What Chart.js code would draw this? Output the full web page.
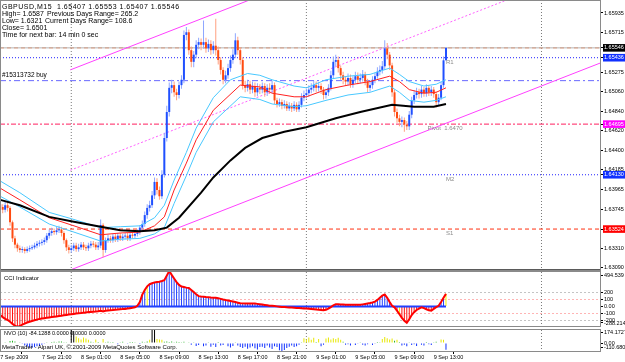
<!DOCTYPE html>
<html>
<head>
<meta charset="utf-8">
<script src="https://cdn.jsdelivr.net/npm/chart.js@4.4.0/dist/chart.umd.min.js"></script>
<style>
  body { margin: 0; background: #fff; width: 625px; height: 362px; overflow: hidden; position: relative; }
  canvas { position: absolute; left: 0; }
  #main { top: 0; }
  #cci { top: 262px; }
  #nvo { top: 329px; }
  .txt { position: absolute; font-family: "Liberation Sans", Arial, sans-serif; white-space: pre; color: #000; }
  .head { font-size: 7px; line-height: 7px; letter-spacing: 0; }
  .small { font-size: 6px; line-height: 6px; }
</style>
</head>
<body>
<canvas id="main" width="625" height="271"></canvas>
<canvas id="cci" width="625" height="68"></canvas>
<canvas id="nvo" width="625" height="33"></canvas>

<div class="txt head" style="left:2px;top:2.5px;letter-spacing:0.5px">GBPUSD,M15  1.65407 1.65553 1.65407 1.65546</div>
<div class="txt head" style="left:2px;top:9.5px">High= 1.6587</div>
<div class="txt head" style="left:47px;top:9.5px">Previous Days Range= 265.2</div>
<div class="txt head" style="left:2px;top:16.5px">Low= 1.6321</div>
<div class="txt head" style="left:45px;top:16.5px">Current Days Range= 108.6</div>
<div class="txt head" style="left:2px;top:23.5px">Close= 1.6501</div>
<div class="txt head" style="left:2px;top:30.5px">Time for next bar: 14 min 0 sec</div>
<div class="txt small" style="left:4px;top:275px">CCI Indicator</div>
<div class="txt small" style="left:4px;top:330px;font-size:5.5px">NVO (10) -84.1288 0.0000 0.0000 0.0000</div>
<div class="txt small" style="left:2px;top:344px">MetaTrader - Alpari UK, © 2001-2009 MetaQuotes Software Corp.</div>

<script>
// GBPUSD M15, bar index 0 = 7 Sep 16:45, one bar every 15 min
const firstOpen = 1.6380;
const closes = [
  1.6377,1.6374,1.6379,1.6376,1.6360,1.6342,1.6335,1.6331,1.6329,1.6330,
  1.6328,1.6330,1.6331,1.6332,1.6334,1.6336,1.6337,1.6338,1.6340,1.6345,
  1.6348,1.6350,1.6349,1.6351,1.6352,1.6348,1.6340,1.6332,1.6329,1.6331,
  1.6334,1.6330,1.6332,1.6335,1.6332,1.6331,1.6334,1.6336,1.6335,1.6332,
  1.6334,1.6357,1.6329,1.6340,1.6342,1.6340,1.6344,1.6341,1.6345,1.6342,
  1.6344,1.6345,1.6342,1.6346,1.6345,1.6347,1.6349,1.6354,1.6358,1.6368,
  1.6376,1.6379,1.6390,1.6405,1.6396,1.6389,1.6413,1.6454,1.6483,1.6510,
  1.6513,1.6505,1.6502,1.6513,1.6519,1.6569,1.6572,1.6552,1.6539,1.6547,
  1.6558,1.6561,1.6558,1.6561,1.6554,1.6559,1.6552,1.6557,1.6552,1.6541,
  1.6530,1.6519,1.6524,1.6532,1.6541,1.6547,1.6563,1.6552,1.6541,1.6513,
  1.6510,1.6514,1.6508,1.6512,1.6505,1.6510,1.6508,1.6512,1.6505,1.6510,
  1.6508,1.6513,1.6496,1.6492,1.6494,1.6490,1.6492,1.6487,1.6490,1.6487,
  1.6491,1.6486,1.6491,1.6499,1.6502,1.6504,1.6508,1.6510,1.6513,1.6510,
  1.6512,1.6508,1.6502,1.6505,1.6510,1.6524,1.6539,1.6541,1.6532,1.6524,
  1.6519,1.6517,1.6521,1.6514,1.6519,1.6523,1.6519,1.6521,1.6525,1.6517,
  1.6510,1.6513,1.6519,1.6523,1.6528,1.6530,1.6534,1.6554,1.6547,1.6535,
  1.6505,1.6483,1.6476,1.6472,1.6474,1.6469,1.6467,1.6480,1.6496,1.6502,
  1.6505,1.6503,1.6508,1.6504,1.6510,1.6505,1.6508,1.6503,1.6494,1.6499,
  1.6513,1.65407,1.65546
];
const highs = [
  1.6384,1.6380,1.6383,1.6382,1.6378,1.6362,1.6345,1.6337,1.6334,1.6333,
  1.6332,1.6333,1.6334,1.6335,1.6337,1.6339,1.6340,1.6341,1.6343,1.6348,
  1.6352,1.6354,1.6353,1.6355,1.6356,1.6355,1.6350,1.6342,1.6335,1.6335,
  1.6337,1.6337,1.6336,1.6338,1.6338,1.6335,1.6337,1.6339,1.6339,1.6338,
  1.6338,1.6363,1.6359,1.6343,1.6346,1.6345,1.6347,1.6347,1.6348,1.6348,
  1.6347,1.6348,1.6348,1.6349,1.6349,1.6350,1.6352,1.6357,1.6362,1.6372,
  1.6380,1.6384,1.6395,1.6410,1.6409,1.6400,1.6418,1.6460,1.6490,1.6516,
  1.6519,1.6517,1.6509,1.6517,1.6524,1.6574,1.6578,1.6575,1.6556,1.6551,
  1.6563,1.6566,1.6565,1.6585,1.6566,1.6564,1.6563,1.6562,1.6587,1.6556,
  1.6544,1.6533,1.6529,1.6537,1.6546,1.6553,1.6571,1.6567,1.6555,1.6544,
  1.6518,1.6519,1.6518,1.6517,1.6516,1.6515,1.6514,1.6516,1.6515,1.6514,
  1.6515,1.6518,1.6516,1.6499,1.6498,1.6497,1.6496,1.6495,1.6494,1.6493,
  1.6495,1.6494,1.6495,1.6504,1.6507,1.6509,1.6513,1.6515,1.6518,1.6517,
  1.6516,1.6515,1.6511,1.6509,1.6514,1.6529,1.6545,1.6547,1.6545,1.6535,
  1.6528,1.6523,1.6526,1.6525,1.6523,1.6528,1.6527,1.6526,1.6530,1.6528,
  1.6520,1.6518,1.6523,1.6527,1.6533,1.6535,1.6540,1.6563,1.6560,1.6550,
  1.6538,1.6508,1.6487,1.6480,1.6478,1.6477,1.6473,1.6484,1.6500,1.6507,
  1.6510,1.6509,1.6512,1.6511,1.6514,1.6513,1.6512,1.6511,1.6506,1.6503,
  1.6517,1.6545,1.65553
];
const lows = [
  1.6373,1.6370,1.6371,1.6372,1.6356,1.6338,1.6331,1.6327,1.6326,1.6326,
  1.6325,1.6326,1.6327,1.6329,1.6330,1.6331,1.6333,1.6334,1.6335,1.6337,
  1.6342,1.6345,1.6346,1.6346,1.6348,1.6344,1.6336,1.6328,1.6325,1.6326,
  1.6328,1.6327,1.6327,1.6329,1.6329,1.6328,1.6328,1.6331,1.6332,1.6329,
  1.6329,1.6331,1.6321,1.6326,1.6337,1.6337,1.6337,1.6338,1.6338,1.6339,
  1.6339,1.6341,1.6339,1.6339,1.6342,1.6342,1.6344,1.6346,1.6351,1.6355,
  1.6364,1.6372,1.6376,1.6386,1.6391,1.6385,1.6386,1.6410,1.6450,1.6478,
  1.6504,1.6500,1.6496,1.6498,1.6509,1.6515,1.6563,1.6547,1.6533,1.6533,
  1.6543,1.6553,1.6552,1.6554,1.6549,1.6550,1.6547,1.6548,1.6546,1.6536,
  1.6525,1.6514,1.6515,1.6520,1.6528,1.6537,1.6543,1.6547,1.6536,1.6508,
  1.6505,1.6506,1.6503,1.6504,1.6500,1.6501,1.6503,1.6504,1.6500,1.6501,
  1.6503,1.6504,1.6492,1.6488,1.6489,1.6486,1.6487,1.6484,1.6484,1.6483,
  1.6484,1.6483,1.6483,1.6488,1.6495,1.6498,1.6500,1.6504,1.6506,1.6505,
  1.6506,1.6503,1.6497,1.6498,1.6501,1.6507,1.6520,1.6534,1.6527,1.6519,
  1.6514,1.6512,1.6513,1.6510,1.6510,1.6515,1.6514,1.6515,1.6517,1.6513,
  1.6505,1.6506,1.6509,1.6515,1.6520,1.6524,1.6526,1.6530,1.6542,1.6530,
  1.6500,1.6478,1.6471,1.6467,1.6466,1.6461,1.6463,1.6463,1.6476,1.6492,
  1.6498,1.6498,1.6499,1.6500,1.6500,1.6501,1.6501,1.6499,1.6488,1.6490,
  1.6496,1.6510,1.65407
];

// moving averages (bar index, price)
const maBlackK = [0,8,20,29,41,49,57,63,68,73,82,87,94,100,107,116,125,137,147,160,169,177,182];
const maBlack = [1.6385,1.6379,1.6366,1.6361,1.6355,1.6351,1.6350,1.6351,1.6354,1.6365,1.6393,1.6410,1.6429,1.6443,1.6454,1.6461,1.6466,1.6476,1.6483,1.6491,1.6489,1.6489,1.6492];
const maRedK = [0,8,20,29,41,49,57,63,67,71,76,80,87,98,106,111,120,125,133,142,151,159,163,167,173,178,182];
const maRed = [1.6398,1.6385,1.6365,1.6357,1.6346,1.6348,1.6349,1.6356,1.6366,1.6396,1.6426,1.6452,1.6485,1.6513,1.6511,1.6504,1.6500,1.6500,1.6508,1.6513,1.6517,1.6523,1.6517,1.6508,1.6504,1.6505,1.6510];
const bandUpK = [0,8,20,29,41,49,57,63,67,71,76,80,87,94,101,106,111,120,125,133,142,151,159,163,167,173,178,182];
const bandUp = [1.6406,1.6393,1.6371,1.6364,1.6354,1.6355,1.6356,1.6365,1.6379,1.6407,1.6438,1.6465,1.6499,1.6519,1.6526,1.6524,1.6519,1.6512,1.6510,1.6519,1.6523,1.6525,1.6532,1.6525,1.6517,1.6512,1.6514,1.6519];
const bandDnK = [0,8,20,29,41,49,57,63,67,71,76,80,87,98,106,111,120,125,133,142,151,159,163,167,173,178,182];
const bandDn = [1.6389,1.6377,1.6358,1.6350,1.6339,1.6341,1.6342,1.6347,1.6354,1.6381,1.6412,1.6438,1.6472,1.6500,1.6497,1.6492,1.6489,1.6490,1.6496,1.6502,1.6505,1.6512,1.6505,1.6496,1.6494,1.6496,1.6500];

// channel (start / end bar index)
const channelK = [28.6, 245.3];
const channelUpper = [1.6530, 1.6761];
const channelMid = [1.6418, 1.6649];
const channelLower = [1.63067, 1.6538];

// levels
const bidPrice = 1.65546;
const r1Level = 1.65436;
const orderLevel = 1.6518;
const pivotLevel = 1.64695;
const m2Level = 1.64130;
const s1Level = 1.63524;
const daySeparators = [29, 125, 221];

const priceMin = 1.63056, priceMax = 1.6608;
const priceTicks = [1.65935,1.65715,1.65275,1.65060,1.64840,1.64620,1.64400,1.64185,1.63965,1.63745,1.63310,1.63090,
                    1.65546,1.65436,1.64695,1.64130,1.63524];

// CCI per bar
const cci = [
  -120,-150,-175,-190,-215,-245,-270,-288.214,-275,-255,
  -240,-225,-215,-205,-195,-185,-175,-170,-165,-160,
  -155,-150,-145,-140,-135,-130,-125,-120,-115,-110,
  -105,-100,-95,-92,-88,-84,-80,-78,-75,-72,
  -68,-60,-70,-62,-58,-55,-52,-48,-45,-40,
  -38,-35,-30,-25,-20,-12,8,60,165,230,
  280,310,323,335,340,345,355,367,430,494.539,
  440,390,340,300,277,270,262,256,230,200,
  170,143,138,134,130,127,124,122,121,115,
  105,95,88,82,75,68,60,52,44,42,
  41,40,40,40,40,35,30,25,20,15,
  10,8,4,0,-4,-8,-10,-13,-15,-17,
  -19,-21,-23,-25,-28,-30,-33,-36,-40,-44,
  -47,-50,-55,-48,-30,-10,15,31,30,28,
  26,24,23,22,22,22,22,22,28,34,
  40,46,55,67,90,120,150,165,121,60,
  8,-13,-60,-110,-160,-200,-230,-180,-120,-81,
  -50,-30,-13,-25,-40,-55,-59,-35,-10,8,
  60,120,175
];
const cciYellow = [60, 163, 182];
const cciTicks = [200, 100, 0, -100, -200];

// NVO per bar
const nvo = [
  5,8,4,6,25,30,20,8,5,-10,
  -30,-45,-55,-60,-50,-40,-35,-20,-10,5,
  8,12,15,10,20,20,10,5,8,174.1727,
  150,80,60,45,70,55,40,15,10,45,
  12,8,50,10,15,10,12,8,-15,10,
  15,8,-10,12,14,10,8,-12,15,10,
  20,40,174,165,50,45,40,15,20,12,
  18,10,15,12,10,15,8,10,-20,10,
  -35,-25,8,-40,-30,10,-45,-20,-50,12,
  -30,-25,8,-40,-55,-35,10,-30,-50,-60,
  -45,-70,-55,-40,-65,-80,-50,-45,-60,-30,
  -55,-75,-40,-50,-90,-110.68,-85,-60,-45,-30,
  -50,-40,-20,10,60,45,70,40,65,12,
  50,-40,-20,55,70,45,60,50,65,40,
  15,-20,-15,-30,8,-25,-10,10,-20,-30,
  -15,8,-25,-10,12,10,50,75,60,45,
  55,30,40,12,-30,-20,-40,10,-25,-15,
  -35,8,-20,-30,12,-15,-25,10,15,8,
  45,40,-84.1288
];

const timeTickK = [0, 17, 33, 49, 65, 81, 97, 113, 129, 145, 161, 177];
const timeLabels = ['7 Sep 2009','7 Sep 21:00','8 Sep 01:00','8 Sep 05:00','8 Sep 09:00','8 Sep 13:00',
                    '8 Sep 17:00','8 Sep 21:00','9 Sep 01:00','9 Sep 05:00','9 Sep 09:00','9 Sep 13:00'];

const xMin = -0.1, xMax = 245.3;
const FONT = '"Liberation Sans", Arial, sans-serif';

Chart.defaults.font.family = FONT;
Chart.defaults.font.size = 5.5;
Chart.defaults.color = '#000';
Chart.defaults.animation = false;

const upBody = '#2050ff', downBody = '#ff4a10', upWick = '#8ea6ff', downWick = '#ffa080';

const opens = closes.map((c, i) => i ? closes[i - 1] : firstOpen);

const pts = (ks, vs) => ks.map((k, i) => ({ x: k, y: vs[i] }));
const line = (data, color, width, dash, order) => ({
  type: 'line', data, borderColor: color, borderWidth: width, borderDash: dash || [],
  pointRadius: 0, tension: 0, order
});
const hline = (v, color, dash, order) => line([{ x: xMin, y: v }, { x: xMax, y: v }], color, 1, dash, order || 8);
const vlines = (lo, hi) => daySeparators.map(k => line([{ x: k, y: lo }, { x: k, y: hi }], '#7a7a7a', 1, [1, 2], 9));

function xAxis(show) {
  return {
    type: 'linear', min: xMin, max: xMax, offset: false, display: show,
    grid: { drawOnChartArea: false, tickLength: 2, color: '#000' },
    border: { display: false },
    afterBuildTicks: s => { s.ticks = timeTickK.map(v => ({ value: v })); },
    afterFit: s => {
      s.height = show ? 10 : 0;
      s.paddingLeft = 0; s.paddingRight = 0; s.paddingTop = 0; s.paddingBottom = 0;
    },
    ticks: { autoSkip: false, maxRotation: 0, align: 'start', padding: 0,
             callback: (v, i) => timeLabels[i] }
  };
}

function fitY(s) { s.width = 24; s.paddingTop = 0; s.paddingBottom = 0; }

const frame = {
  id: 'frame',
  afterDraw(chart) {
    const { ctx, chartArea: a } = chart;
    ctx.save();
    ctx.strokeStyle = '#8a8a8a';
    ctx.lineWidth = 1;
    ctx.strokeRect(a.left + 0.5, a.top + 0.5, a.right - a.left - 1, a.bottom - a.top - 1);
    ctx.restore();
  }
};

const levelTags = [
  { text: 'R1', k: 182, v: r1Level },
  { text: 'M2', k: 182, v: m2Level },
  { text: 'S1', k: 182, v: s1Level },
  { text: 'Pivot  1.6470', k: 174.5, v: pivotLevel }
];

const mainText = {
  id: 'mainText',
  afterDatasetsDraw(chart) {
    const { ctx, scales: { x, y } } = chart;
    ctx.save();
    ctx.font = '6px ' + FONT;
    ctx.textBaseline = 'top';
    ctx.fillStyle = '#8c8c8c';
    levelTags.forEach(t => ctx.fillText(t.text, x.getPixelForValue(t.k), y.getPixelForValue(t.v) + 1.5));
    ctx.fillStyle = '#000';
    ctx.textBaseline = 'bottom';
    ctx.font = '6.5px ' + FONT;
    ctx.fillText('#15313732 buy', 2, y.getPixelForValue(orderLevel) - 2);
    // heavy separator under the price panel
    const a = chart.chartArea;
    ctx.fillStyle = '#5a5a5a';
    ctx.fillRect(0, a.bottom - 2, a.right, 2);
    ctx.restore();
  }
};

const boxColors = { '1.65546': '#000000', '1.65436': '#1030ff', '1.64695': '#ff00ff', '1.64130': '#1030ff', '1.63524': '#ff0000' };

new Chart(document.getElementById('main'), {
  type: 'bar',
  data: {
    datasets: [
      line(pts(channelK, channelUpper), '#ff40ff', 1, [], 7),
      line(pts(channelK, channelMid), '#ff60ff', 1, [2, 2], 7),
      line(pts(channelK, channelLower), '#ff40ff', 1, [], 7),
      hline(bidPrice, '#b4b4b4', []),
      hline(bidPrice, '#ff7a40', [4, 3]),
      hline(r1Level, '#2020ff', [1, 2]),
      hline(orderLevel, '#6868ff', [6, 3, 2, 3]),
      hline(pivotLevel, '#ff2060', [5, 2, 2, 2]),
      hline(m2Level, '#2020ff', [1, 2]),
      hline(s1Level, '#ff3010', [4, 3]),
      ...vlines(priceMin, priceMax),
      {
        type: 'bar', order: 5, grouped: false, barThickness: 1, inflateAmount: 0,
        data: closes.map((c, i) => ({ x: i, y: [lows[i], highs[i]] })),
        backgroundColor: closes.map((c, i) => c >= opens[i] ? upWick : downWick)
      },
      {
        type: 'bar', order: 4, grouped: false, barThickness: 2, inflateAmount: 0, minBarLength: 1,
        data: closes.map((c, i) => ({ x: i, y: [opens[i], c] })),
        backgroundColor: closes.map((c, i) => c >= opens[i] ? upBody : downBody)
      },
      line(pts(bandUpK, bandUp), '#48c8ff', 1, [], 2),
      line(pts(bandDnK, bandDn), '#48c8ff', 1, [], 2),
      line(pts(maRedK, maRed), '#ff2020', 1, [], 2),
      line(pts(maBlackK, maBlack), '#000000', 2, [], 1)
    ]
  },
  options: {
    responsive: false,
    layout: { padding: 0 },
    plugins: { legend: { display: false }, tooltip: { enabled: false } },
    scales: {
      x: xAxis(false),
      y: {
        type: 'linear', position: 'right', min: priceMin, max: priceMax,
        afterBuildTicks: s => { s.ticks = priceTicks.map(v => ({ value: v })); },
        afterFit: fitY,
        grid: { drawOnChartArea: false, tickLength: 2, color: '#000' },
        border: { display: false },
        ticks: {
          autoSkip: false, padding: 1,
          callback: v => v.toFixed(5),
          showLabelBackdrop: true,
          backdropPadding: { top: 0.5, bottom: 0.5, left: 1, right: 3 },
          backdropColor: ctx => boxColors[ctx.tick.value.toFixed(5)] || 'rgba(0,0,0,0)',
          color: ctx => boxColors[ctx.tick.value.toFixed(5)] ? '#fff' : '#000'
        }
      }
    }
  },
  plugins: [frame, mainText]
});

// CCI panel
const cciMax = Math.max(...cci), cciMin = Math.min(...cci);
const cciTopTick = 438.6, cciBottomTick = -232.3;
new Chart(document.getElementById('cci'), {
  type: 'bar',
  data: {
    datasets: [
      ...vlines(cciMin, cciMax),
      {
        type: 'bar', order: 4, grouped: false, barThickness: 1, inflateAmount: 0,
        data: cci.map((v, i) => ({ x: i, y: v })),
        backgroundColor: cci.map((v, i) => cciYellow.includes(i) ? '#f5f000' : v >= 0 ? '#2040ff' : '#ff1010')
      },
      line(cci.map((v, i) => ({ x: i, y: 0 })), '#2040ff', 2, [], 3),
      line(cci.map((v, i) => ({ x: i, y: v })), '#ff0000', 2, [], 1)
    ]
  },
  options: {
    responsive: false,
    layout: { padding: { top: 9, bottom: 3, left: 0, right: 0 } },
    plugins: { legend: { display: false }, tooltip: { enabled: false } },
    scales: {
      x: xAxis(false),
      y: {
        type: 'linear', position: 'right', min: cciMin, max: cciMax,
        afterBuildTicks: s => { s.ticks = [cciTopTick, ...cciTicks, cciBottomTick].map(v => ({ value: v })); },
        afterFit: fitY,
        grid: {
          drawOnChartArea: true, tickLength: 2, tickColor: '#000',
          color: ctx => {
            const v = ctx.tick && ctx.tick.value;
            if (v === 200 || v === -200) return '#c4c4c4';
            if (v === 100 || v === -100) return '#ffb4b4';
            return 'rgba(0,0,0,0)';
          }
        },
        border: { display: false, dash: [2, 2] },
        ticks: {
          autoSkip: false, padding: 1,
          callback: v => v === cciTopTick ? cciMax.toFixed(3) : v === cciBottomTick ? cciMin.toFixed(3) : v === 0 ? '0.00' : String(v)
        }
      }
    }
  },
  plugins: [frame]
});

// NVO panel with time axis
const nvoMax = Math.max(...nvo), nvoMin = Math.min(...nvo);
const nvoTopTick = 128, nvoBottomTick = -55;
new Chart(document.getElementById('nvo'), {
  type: 'bar',
  data: {
    datasets: [
      ...vlines(nvoMin, nvoMax),
      {
        type: 'bar', order: 4, grouped: false, barThickness: 1, inflateAmount: 0,
        data: nvo.map((v, i) => ({ x: i, y: v })),
        backgroundColor: nvo.map(v => v >= 150 ? '#000000' : v >= 35 ? '#e8e800' : v >= 0 ? '#20b020' : '#1030ff')
      }
    ]
  },
  options: {
    responsive: false,
    layout: { padding: 0 },
    plugins: { legend: { display: false }, tooltip: { enabled: false } },
    scales: {
      x: xAxis(true),
      y: {
        type: 'linear', position: 'right', min: nvoMin, max: nvoMax,
        afterBuildTicks: s => { s.ticks = [nvoTopTick, 0, nvoBottomTick].map(v => ({ value: v })); },
        afterFit: fitY,
        grid: { drawOnChartArea: false, tickLength: 2, color: '#000' },
        border: { display: false },
        ticks: {
          autoSkip: false, padding: 1,
          callback: v => v === nvoTopTick ? nvoMax.toFixed(4) : v === nvoBottomTick ? nvoMin.toFixed(3) : '0.00'
        }
      }
    }
  },
  plugins: [frame]
});
</script>
</body>
</html>
